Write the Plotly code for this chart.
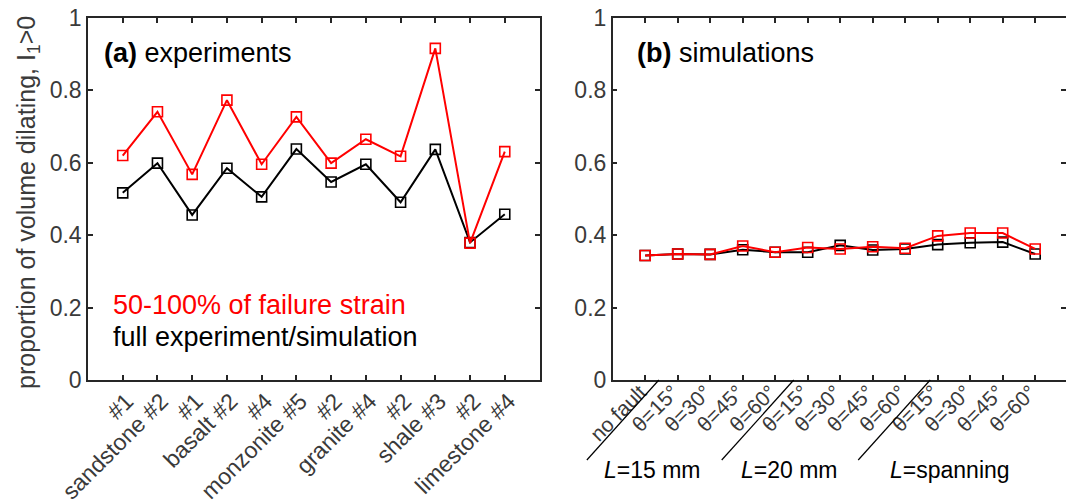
import plotly.graph_objects as go

W, H = 1066, 500

# ---------------- data ----------------
labels_a = ["#1", "sandstone #2", "#1", "basalt #2", "#4", "monzonite #5",
            "#2", "granite #4", "#2", "shale #3", "#2", "limestone #4"]
red_a = [0.620, 0.741, 0.568, 0.773, 0.596, 0.727, 0.599, 0.665, 0.618, 0.916, 0.378, 0.631]
black_a = [0.517, 0.599, 0.456, 0.585, 0.506, 0.638, 0.547, 0.596, 0.491, 0.637, 0.380, 0.458]

labels_b = ["no fault", "θ=15°", "θ=30°", "θ=45°", "θ=60°", "θ=15°", "θ=30°",
            "θ=45°", "θ=60°", "θ=15°", "θ=30°", "θ=45°", "θ=60°"]
red_b = [0.344, 0.348, 0.347, 0.370, 0.353, 0.366, 0.362, 0.368, 0.364, 0.398, 0.406, 0.406, 0.362]
black_b = [0.344, 0.348, 0.347, 0.360, 0.353, 0.353, 0.372, 0.359, 0.362, 0.374, 0.379, 0.381, 0.348]

group_labels = ["<i>L</i>=15 mm", "<i>L</i>=20 mm", "<i>L</i>=spanning"]
group_bounds = [1.42, 5.57, 9.77]
group_label_x = [1.21, 5.45, 10.38]

y_ticks = [0, 0.2, 0.4, 0.6, 0.8, 1]
y_ticktext = ["0", "0.2", "0.4", "0.6", "0.8", "1"]

# ---------------- layout geometry ----------------
def px(x):
    return x / W

def py(y):
    return 1 - y / H

dom1 = [px(88), px(539.5)]
dom2 = [px(612.7), 1.0]
ydom = [py(380), py(18)]
range1 = [0, 13]
range2 = [0, (W - 612.7) / 32.5]

FONT = "Liberation Sans, Arial, Helvetica, sans-serif"
TICKC = "#3a3a3a"
AXC = "#262626"
RED = "#ff0000"

xs_a = list(range(1, len(labels_a) + 1))
xs_b = list(range(1, len(labels_b) + 1))

fig = go.Figure()

def add_series(x, y, color, xa, ya):
    fig.add_trace(go.Scatter(
        x=x, y=y, mode="lines+markers", xaxis=xa, yaxis=ya,
        line=dict(color=color, width=2),
        marker=dict(symbol="square-open", size=10, color=color, line=dict(width=1.6, color=color)),
        showlegend=False, cliponaxis=False))

add_series(xs_a, black_a, "#000000", "x", "y")
add_series(xs_a, red_a, RED, "x", "y")
add_series(xs_b, black_b, "#000000", "x2", "y2")
add_series(xs_b, red_b, RED, "x2", "y2")

axis_common = dict(showline=True, linecolor=AXC, linewidth=1.5, mirror="ticks",
                   ticks="inside", ticklen=5, tickwidth=1.5, tickcolor=AXC,
                   showgrid=False, zeroline=False, automargin=False,
                   tickfont=dict(family=FONT, size=23, color=TICKC))
xb_common = dict(axis_common)
xb_common["tickfont"] = dict(family=FONT, size=21, color=TICKC)

fig.update_layout(
    width=W, height=H,
    margin=dict(l=0, r=0, t=0, b=0),
    paper_bgcolor="white", plot_bgcolor="white",
    font=dict(family=FONT, color="#000000"),
    xaxis=dict(domain=dom1, range=range1, tickmode="array", tickvals=xs_a,
               ticktext=labels_a, tickangle=-45, anchor="y",
               ticklabelshift=4, ticklabelstandoff=-3, **axis_common),
    yaxis=dict(domain=ydom, range=[0, 1], tickmode="array", tickvals=y_ticks,
               ticktext=y_ticktext, anchor="x", **axis_common),
    xaxis2=dict(domain=dom2, range=range2, tickmode="array", tickvals=xs_b,
                ticktext=labels_b, tickangle=-45, anchor="y2",
                ticklabelshift=-5, ticklabelstandoff=-10, **xb_common),
    yaxis2=dict(domain=ydom, range=[0, 1], tickmode="array", tickvals=y_ticks,
                ticktext=y_ticktext, anchor="x2", **axis_common),
)

def x2paper(x):
    return dom2[0] + (x - range2[0]) / (range2[1] - range2[0]) * (dom2[1] - dom2[0])

annotations = []
def ann(text, x, y, size, color="#000000", xanchor="left", yanchor="middle", angle=0):
    annotations.append(dict(text=text, x=x, y=y, xref="paper", yref="paper",
                            xanchor=xanchor, yanchor=yanchor, showarrow=False,
                            textangle=angle,
                            font=dict(family=FONT, size=size, color=color)))

ann("<b>(a)</b> experiments", px(102), py(53), 27)
ann("<b>(b)</b> simulations", px(635), py(53), 27)
ann("50-100% of failure strain", px(111), py(305), 27, RED)
ann("full experiment/simulation", px(111), py(337), 27)
ann("proportion of volume dilating, I<sub>1</sub>>0", px(28), py(203), 25, TICKC,
    xanchor="center", angle=-90)
for lab, gx in zip(group_labels, group_label_x):
    ann(lab, x2paper(gx), py(470), 23, "#000000", xanchor="center")

shapes = []
for b in group_bounds:
    xt = x2paper(b)
    shapes.append(dict(type="line", xref="paper", yref="paper",
                       x0=xt, y0=py(380), x1=xt - px(72), y1=py(460),
                       line=dict(color="#000000", width=1.2)))

fig.update_layout(annotations=annotations, shapes=shapes)

fig.write_html("out.html")
